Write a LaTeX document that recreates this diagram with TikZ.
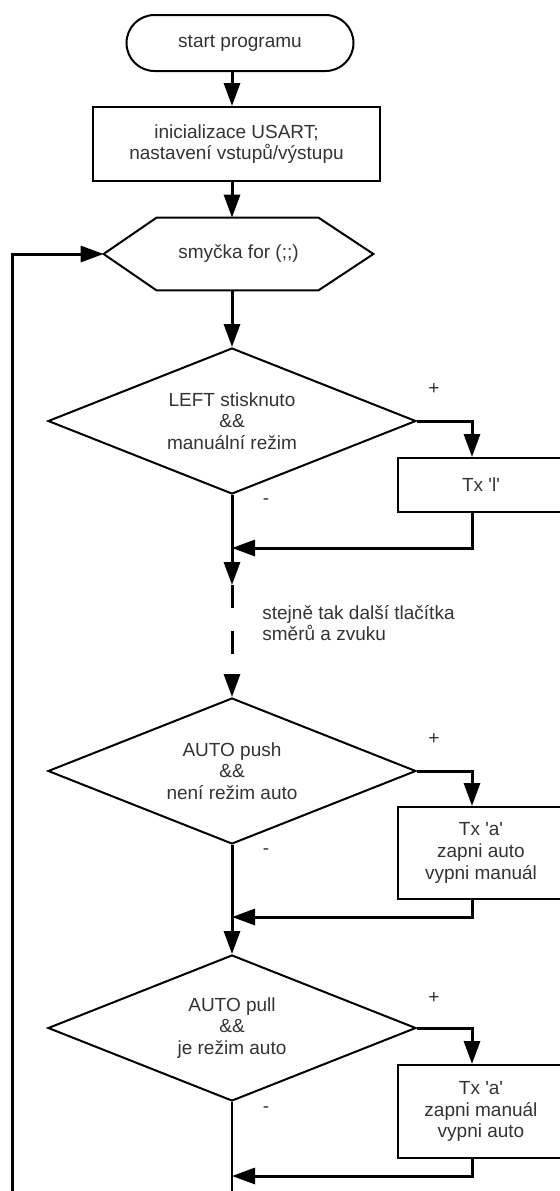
\documentclass[tikz,border=0pt]{standalone}
\usepackage{fontspec}
\setmainfont{Liberation Sans}
\usepackage{tikz}
\usetikzlibrary{arrows.meta,shapes.geometric}

\begin{document}
\begin{tikzpicture}[x=0.5pt,y=-0.5pt,
  font=\fontsize{9.5}{10.8}\selectfont,
  txt/.style={text=black!80,inner sep=0pt},
  box/.style={draw,line width=1pt,rectangle,align=center,txt},
  term/.style={box,rounded corners=14pt,minimum width=113.5pt,minimum height=28pt},
  decis/.style={draw,line width=1pt,diamond,aspect=2.5,align=center,txt,minimum width=184pt,minimum height=73pt},
  txbox/.style={box,minimum width=83pt},
  arr/.style={-{Triangle[length=11.5pt,width=8pt]},line width=1.5pt}]
\useasboundingbox (0,0) rectangle (560,1191);
\clip (0,0) rectangle (560,1191);
\node (start) at (240,43) [term]{start programu};
\node (init) at (236.5,144) [box,minimum width=143.5pt,minimum height=37pt]{inicializace USART;\\nastavení vstupů/výstupu};
\node (hex) at (238.5,254) [txt,minimum width=134.5pt,minimum height=36pt]{smyčka for (;;)};
\draw [line width=1pt](hex.west)--([xshift=26.5pt]hex.north west)--([xshift=-27.5pt]hex.north east)--(hex.east)--([xshift=-27.5pt]hex.south east)--([xshift=26.5pt]hex.south west)--cycle;
\node (d1) at (232,421) [decis]{LEFT stisknuto\\\&\&\\manuální režim};
\node (d2) at (232,771) [decis]{AUTO push\\\&\&\\není režim auto};
\node (d3) at (232,1028) [decis]{AUTO pull\\\&\&\\je režim auto};
\node (tl) at (481,485) [txbox,minimum height=27pt]{Tx \textquotesingle l\textquotesingle};
\node (ta) at (481,853) [txbox,minimum height=46pt]{Tx \textquotesingle a\textquotesingle\\zapni auto\\vypni manuál};
\node (tm) at (481,1111.5) [txbox,minimum height=46.5pt]{Tx \textquotesingle a\textquotesingle\\zapni manuál\\vypni auto};
\node (note) at (262,623) [txt,right,align=left]{stejně tak další tlačítka\\směrů a zvuku};
\node at (434,389) [txt]{+};
\node at (434,739) [txt]{+};
\node at (434,998) [txt]{+};
\node at (266,502) [txt]{-};
\node at (266,852) [txt]{-};
\node at (266,1110) [txt]{-};
\coordinate (gap) at (232,585);
\coordinate (m1) at (232,548);
\coordinate (m2) at (232,917);
\coordinate (m3) at (232,1176);
\coordinate (bot) at (232,1200);
\coordinate (back) at (12,1200);
\draw [arr](start.south -| d1)--(init.north -| d1);
\draw [arr](init.south -| d1)--(hex.north -| d1);
\draw [arr](hex.south -| d1)--(d1.north);
\draw [arr](d1.east)-|([xshift=-4.5pt]tl.north);
\draw [arr]([xshift=-4.5pt]tl.south)|-(m1);
\draw [arr](d1.south)--(gap);
\draw [arr,dash pattern=on 11.5pt off 11.5pt](gap)--(d2.north);
\draw [arr](d2.east)-|([xshift=-4.5pt]ta.north);
\draw [arr]([xshift=-4.5pt]ta.south)|-(m2);
\draw [arr](d2.south)--(d3.north);
\draw [arr](d3.east)-|([xshift=-4.5pt]tm.north);
\draw [arr]([xshift=-4.5pt]tm.south)|-(m3);
\draw [line width=0.9pt](d3.south)--(bot);
\draw [arr](back)|-(hex.west);
\end{tikzpicture}
\end{document}
